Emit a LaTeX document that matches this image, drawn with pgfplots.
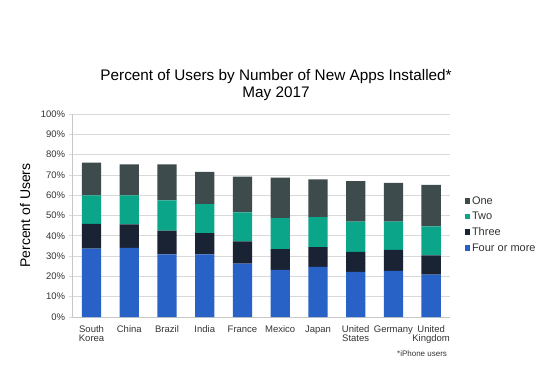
\documentclass[border=0pt]{standalone}
\usepackage{pgfplots}
\pgfplotsset{compat=1.18}
\usepackage{fontspec}
\setmainfont{Liberation Sans}
\definecolor{cFour}{HTML}{2962C6}
\definecolor{cThree}{HTML}{1A2334}
\definecolor{cTwo}{HTML}{0BA68A}
\definecolor{cOne}{HTML}{3E4B4D}
\definecolor{gridc}{HTML}{D9D9D9}
\definecolor{txt}{HTML}{333333}
\pgfplotsset{sqleg/.style={legend image code/.code={\fill[##1] (0bp,-2.8bp) rectangle (5.5bp,2.8bp);}}}
\begin{document}
\begin{tikzpicture}[x=1bp,y=1bp]
\useasboundingbox (0,0) rectangle (550,391);
\begin{axis}[
  at={(72.7bp,74bp)}, anchor=south west, scale only axis,
  width=377.3bp, height=203bp,
  ybar stacked, bar width=19.3bp,
  xmin=-0.5, xmax=9.5, ymin=0, ymax=100,
  xtick={0,...,9},
  xticklabels={South\\Korea,China,Brazil,India,France,Mexico,Japan,United\\States,Germany,United\\Kingdom},
  xticklabel style={align=center, font=\fontsize{9.5bp}{9.5bp}\selectfont, text=txt, anchor=north, yshift=-1bp},
  major x tick style={draw=none},
  ytick={0,10,...,100},
  yticklabel={\pgfmathprintnumber{\tick}\%},
  /pgf/number format/assume math mode=true,
  yticklabel style={font=\fontsize{9.5bp}{10bp}\selectfont, text=txt},
  major y tick style={draw=gridc, line width=0.8bp},
  tick align=outside, major tick length=4bp,
  ymajorgrids, grid style={gridc, line width=0.8bp},
  axis x line*=bottom, axis y line*=left,
  axis line style={-, draw=gridc!80!gray, line width=0.8bp},
  clip=false,
  ylabel={Percent of Users},
  every axis y label/.style={at={(axis description cs:-0.1264,0.5)}, rotate=90, anchor=center, font=\fontsize{14bp}{16bp}\selectfont},
  title={Percent of Users by Number of New Apps Installed*\\May 2017},
  every axis title/.style={at={(axis description cs:0.539,1.143)}, anchor=center, align=center, font=\fontsize{15.3bp}{16.5bp}\selectfont},
  reverse legend,
  legend style={at={(rel axis cs:1.03,0.615)}, anchor=north west, draw=none, fill=none,
    font=\fontsize{11bp}{13bp}\selectfont, text=txt, row sep=2.5bp, legend cell align=left,
    /tikz/every even column/.style={column sep=2bp}},
]
\addplot[fill=cFour, draw=none, sqleg] coordinates {(0,33.7) (1,34.0) (2,30.9) (3,30.9) (4,26.3) (5,23.2) (6,24.7) (7,22.2) (8,22.7) (9,20.9)};
\addplot[fill=cThree, draw=none, sqleg] coordinates {(0,12.2) (1,11.6) (2,11.7) (3,10.4) (4,10.9) (5,10.2) (6,9.7) (7,9.9) (8,10.4) (9,9.4)};
\addplot[fill=cTwo, draw=none, sqleg] coordinates {(0,14.0) (1,14.3) (2,14.8) (3,14.3) (4,14.3) (5,15.3) (6,14.8) (7,14.9) (8,13.9) (9,14.4)};
\addplot[fill=cOne, draw=none, sqleg] coordinates {(0,16.1) (1,15.3) (2,17.8) (3,15.9) (4,17.6) (5,19.9) (6,18.6) (7,19.9) (8,19.1) (9,20.4)};
\legend{Four or more,Three,Two,One}
\node[font=\fontsize{8bp}{9bp}\selectfont, text=txt] at (rel axis cs:0.926,-0.182) {*iPhone users};
\end{axis}
\end{tikzpicture}
\end{document}
